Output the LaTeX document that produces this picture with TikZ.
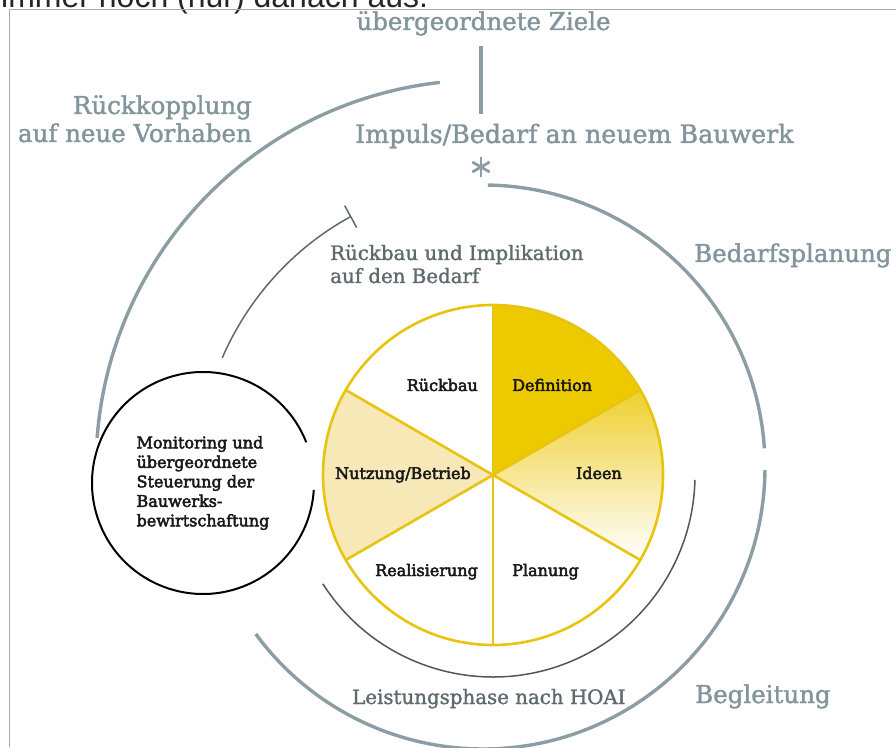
\documentclass[tikz,border=0pt]{standalone}
\usepackage{fontspec}
\setmainfont{DejaVu Serif}
\newfontfamily\pieface[FakeBold=3]{DejaVu Serif}
\newfontfamily\labelface[FakeBold=1.5]{DejaVu Serif}
\newfontfamily\capfont{Liberation Sans}
\usetikzlibrary{arrows.meta}
\definecolor{outergrey}{HTML}{8C9EA4}
\definecolor{labelgrey}{HTML}{82959B}
\definecolor{darkgrey}{HTML}{5E6A6E}
\definecolor{innergrey}{HTML}{4E585C}
\definecolor{pieyellow}{HTML}{E8C410}
\definecolor{defyellow}{HTML}{EDCA00}
\definecolor{ideenyellow}{HTML}{EFCF2E}
\definecolor{useyellow}{HTML}{F7E8B8}
\definecolor{framegrey}{HTML}{A8A8A8}

\begin{document}
\begin{tikzpicture}[x=1pt,y=1pt]
\clip (0,0) rectangle (896,747);
%%%%%%%%%%%%%%%%%%%%%%%%%%%%%%%%%%%%%%%%%%%%%%%%%%%%%%%%%%%%%%
%styles
\tikzstyle{greyline}=[color=outergrey,line width=3.4pt]
\tikzstyle{thinline}=[color=darkgrey,line width=1.5pt]
\tikzstyle{pieline}=[color=pieyellow,line width=2.6pt]
\tikzstyle{biglabel}=[inner sep=0pt,color=labelgrey,font=\labelface\fontsize{24.5}{28}\selectfont]
\tikzstyle{midlabel}=[inner sep=0pt,color=darkgrey,font=\labelface\fontsize{19.8}{23}\selectfont]
\tikzstyle{pielabel}=[inner sep=0pt,color=black!90,font=\pieface\fontsize{16}{19.5}\selectfont]

%centres
\coordinate (P) at (493,272);
\coordinate (O) at (483,280);
\coordinate (M) at (203,264);
\coordinate (mark) at (481,580);

%%%%%%%%%%%%%%%%%%%%%%%%%%%%%%%%%%%%%%%%%%%%%%%%%%%%%%%%%%%%%%
%FRAME
\node[inner sep=0pt,anchor=base west,color=black!85,font=\capfont\fontsize{32}{36}\selectfont] (caption) at (1,739) {immer noch (nur) danach aus.};
\draw[color=framegrey,line width=1pt] (9,0) -- (9,737) -- (896,737);

%%%%%%%%%%%%%%%%%%%%%%%%%%%%%%%%%%%%%%%%%%%%%%%%%%%%%%%%%%%%%%
%PIE
%sectors
\fill[defyellow,shift={(P)}] (0,0) -- (90:170) arc[start angle=90,end angle=30,radius=170] -- cycle;
\shade[top color=ideenyellow,bottom color=white,shift={(P)}] (0,0) -- (30:170) arc[start angle=30,end angle=-30,radius=170] -- cycle;
\fill[useyellow,shift={(P)}] (0,0) -- (150:170) arc[start angle=150,end angle=210,radius=170] -- cycle;
%spokes
\foreach \a in {90,30,-30,-90,-150,150}
  \draw[pieline] (P) -- ++(\a:170);
\draw[pieline] (P) circle[radius=170];

%labels
\node[pielabel,anchor=base east] (rueckbau) at (478,356) {Rückbau};
\node[pielabel,anchor=base west] (definition) at (512,356) {Definition};
\node[pielabel,anchor=base west] (nutzung) at (335,268) {Nutzung/Betrieb};
\node[pielabel,anchor=base east] (ideen) at (622,268) {Ideen};
\node[pielabel,anchor=base east] (realisierung) at (478,171) {Realisierung};
\node[pielabel,anchor=base west] (planung) at (512,171) {Planung};

%%%%%%%%%%%%%%%%%%%%%%%%%%%%%%%%%%%%%%%%%%%%%%%%%%%%%%%%%%%%%%
%MONITORING
\node[pielabel,align=left] (monitor) at (M) {Monitoring und\\übergeordnete\\Steuerung der\\Bauwerks-\\bewirtschaftung};
\draw[black,line width=2pt,shift={(M)}] (21.5:111) arc[start angle=21.5,end angle=356.4,radius=111];

%%%%%%%%%%%%%%%%%%%%%%%%%%%%%%%%%%%%%%%%%%%%%%%%%%%%%%%%%%%%%%
%TEXT
\node[biglabel,anchor=base] (ziele) at (483.5,717) {übergeordnete Ziele};
\node[biglabel,anchor=base west,font=\labelface\fontsize{25.3}{28}\selectfont] (impuls) at (355,604) {Impuls/Bedarf an neuem Bauwerk};
\node[biglabel,anchor=base east,align=right] (rueckkopplung) at (252,605) {Rückkopplung\\auf neue Vorhaben};
\node[biglabel,anchor=base west] (bedarfsplanung) at (694,485) {Bedarfsplanung};
\node[biglabel,anchor=base west] (begleitung) at (695,44) {Begleitung};
\node[midlabel,anchor=base west,align=left] (implikation) at (330,464) {Rückbau und Implikation\\auf den Bedarf};
\node[midlabel,anchor=base west] (leistung) at (352,43) {Leistungsphase nach HOAI};

%%%%%%%%%%%%%%%%%%%%%%%%%%%%%%%%%%%%%%%%%%%%%%%%%%%%%%%%%%%%%%
%ARCS
%top
\draw[greyline] (ziele.south -| mark) ++(0,-10) -- ++(0,-68);
\foreach \a in {90,30,-30}
  \draw[color=outergrey,line width=2.8pt,shift={(mark)}] (\a:10) -- (\a+180:10);
%outer
\draw[greyline,shift={(O)}] (89:282) arc[start angle=89,end angle=3.8,radius=282];
\draw[greyline,shift={(O)}] (-0.6:282) arc[start angle=-0.6,end angle=-143.7,radius=282];
\draw[greyline,shift={(O)}] (96.4:387) arc[start angle=96.4,end angle=175.7,radius=387];
%inner
\draw[thinline,-{Bar[width=25pt]},shift={(P)}] (156.6:295) arc[start angle=156.6,end angle=118.7,radius=295];
\draw[color=innergrey,line width=1.5pt,shift={(P)}] (-147.4:202) arc[start angle=-147.4,end angle=-1.4,radius=202];
\end{tikzpicture}
\end{document}
